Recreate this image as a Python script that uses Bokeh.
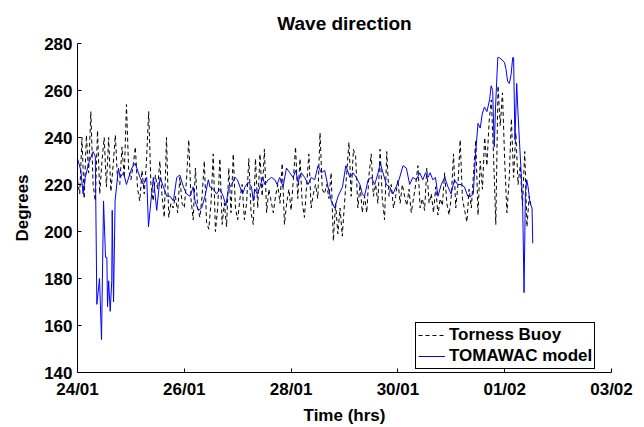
from bokeh.plotting import figure
from bokeh.models import FixedTicker, Legend, LegendItem
from bokeh.embed import file_html
from bokeh.resources import INLINE

# ---- data -------------------------------------------------------------
x_ticks = [0, 48, 96, 144, 192, 240]          # hours since 24/01 00:00
x_tick_labels = ["24/01", "26/01", "28/01", "30/01", "01/02", "03/02"]
y_ticks = [140, 160, 180, 200, 220, 240, 260, 280]

# Torness Buoy: hourly observations from 24/01 00:00
buoy_hours = list(range(205))
buoy_deg = [
    222, 216, 240, 214, 241, 225, 251, 220, 213, 243, 216, 230,
    240, 219, 240, 217, 228, 241, 222, 220, 236, 223, 254, 226,
    222, 228, 236, 218, 213, 226, 216, 230, 251, 220, 213, 224,
    218, 230, 215, 206, 240, 206, 212, 210, 215, 208, 223, 212,
    210, 222, 239, 214, 205, 227, 210, 206, 215, 230, 204, 201,
    212, 233, 200, 210, 231, 203, 212, 202, 227, 208, 233, 210,
    205, 214, 220, 205, 212, 231, 208, 203, 231, 210, 233, 215,
    235, 208, 218, 213, 208, 215, 220, 212, 229, 203, 212, 218,
    209, 222, 236, 214, 231, 212, 206, 220, 233, 210, 216, 220,
    214, 242, 218, 216, 220, 214, 225, 196, 212, 199, 210, 198,
    212, 225, 238, 215, 235, 232, 210, 220, 208, 215, 208, 224,
    233, 215, 220, 212, 235, 214, 205, 234, 215, 220, 210, 215,
    222, 212, 220, 215, 211, 218, 208, 214, 220, 228, 210, 214,
    209, 227, 212, 216, 208, 219, 207, 214, 211, 225, 212, 207,
    215, 233, 210, 220, 239, 214, 209, 204, 218, 210, 225, 239,
    207, 230, 218, 240, 228, 247, 256, 232, 203, 262, 245, 259,
    230, 208, 222, 248, 223, 242, 220, 228, 211, 234, 202, 215, 210,
]

# TOMAWAC model
model_hours = [
    0, 1.5, 2.5, 3.5, 5, 7, 8, 8.7, 9.9, 10.8,
    11.7, 12.6, 13.2, 13.5, 14, 14.7, 15.4, 15.6, 16.2, 16.9,
    18.4, 19.2, 20.7, 22, 24.4, 25.9, 27.4, 28.1, 29.6, 31.1,
    31.9, 33, 34.1, 35.6, 37.1, 38.6, 40.1, 41.6, 43.1, 44.6,
    46, 47.6, 49, 50.6, 52, 52.8, 54.3, 55.8, 57.3, 58.8,
    59.5, 61, 62.5, 64, 65.5, 66.7, 67.8, 69.3, 70.8, 71.9,
    73, 74.2, 75.3, 76.7, 78.2, 79, 79.7, 80.8, 82, 83.2,
    84.2, 85.7, 87.2, 88.7, 89.7, 90.9, 92.4, 93.9, 95.4, 96.9,
    98.1, 99.1, 100.6, 102.1, 103.6, 105.1, 106.6, 108.1, 109.6, 111.1,
    112.6, 114.1, 115.6, 117.1, 119.1, 120.6, 122.4, 123.8, 125.3, 126.9,
    128, 129, 130.6, 132.1, 133.6, 135.1, 136.1, 137.3, 138.8, 140.3,
    141.8, 143.2, 144.5, 146.3, 147.8, 149.3, 150.7, 152.3, 153.8, 155.2,
    156.4, 157.5, 158.5, 159.7, 160.9, 162, 163.5, 165, 166.5, 167.9,
    169.4, 170.9, 172.4, 173.9, 175.4, 176.9, 177.9, 178.9, 180, 181,
    181.9, 182.9, 184, 185.2, 185.9, 186.6, 187.3, 187.9, 188.4, 188.9,
    189.6, 190.8, 191.9, 192.6, 193.3, 194.1, 194.9, 195.6, 196, 196.6,
    197.4, 198, 198.6, 199.4, 200.1, 200.7, 201.3, 201.9, 202.5, 203.4,
    204.3, 204.6,
]
model_deg = [
    231, 226, 216, 223, 229, 234, 232, 169, 180, 154,
    213, 189, 189, 168, 179, 166, 179, 209, 170, 213,
    227, 223, 225, 220, 227, 229, 225, 223, 220, 223,
    202, 213, 223, 209, 223, 219, 215, 215, 213, 223,
    224, 219, 216, 215, 219, 213, 209, 210, 215, 222,
    219, 218, 216, 218, 215, 211, 218, 220, 223, 222,
    219, 216, 219, 221, 219, 213, 218, 216, 219, 223,
    220, 222, 223, 222, 220, 223, 219, 227, 225, 223,
    226, 221, 225, 223, 220, 223, 222, 228, 225, 226,
    219, 213, 210, 215, 219, 228, 223, 225, 223, 220,
    216, 215, 222, 223, 220, 225, 229, 225, 220, 219,
    216, 219, 222, 228, 227, 220, 223, 222, 225, 222,
    225, 223, 225, 222, 223, 215, 220, 223, 219, 216,
    222, 220, 220, 219, 215, 215, 216, 233, 246, 244,
    250, 253, 251, 256, 262, 260, 236, 253, 264, 274,
    274, 273, 272, 269, 264, 263, 267, 274, 274, 239,
    263, 250, 239, 225, 210, 174, 216, 222, 219, 212,
    210, 195,
]

FONT = "Liberation Sans"

p = figure(width=644, height=427, output_backend="svg", toolbar_location=None,
           x_range=(0, 240), y_range=(140, 280),
           min_border_left=77, min_border_right=33,
           min_border_top=43, min_border_bottom=55)

p.title.text = "Wave direction"
p.title.align = "center"
p.title.text_font = FONT
p.title.text_font_size = "19px"
p.title.text_font_style = "bold"
p.title.text_color = "black"
p.title.standoff = 19

p.outline_line_color = None
p.xgrid.grid_line_color = None
p.ygrid.grid_line_color = None

p.xaxis.ticker = FixedTicker(ticks=x_ticks)
p.xaxis.major_label_overrides = {t: l for t, l in zip(x_ticks, x_tick_labels)}
p.yaxis.ticker = FixedTicker(ticks=y_ticks)

for ax in (p.xaxis, p.yaxis):
    ax.axis_line_color = "black"
    ax.axis_line_width = 1
    ax.major_tick_in = 4
    ax.major_tick_out = 0
    ax.major_tick_line_color = "black"
    ax.minor_tick_line_color = None
    ax.major_label_text_font = FONT
    ax.major_label_text_font_size = "17px"
    ax.major_label_text_font_style = "bold"
    ax.major_label_text_color = "black"
    ax.axis_label_text_font = FONT
    ax.axis_label_text_font_size = "17px"
    ax.axis_label_text_font_style = "bold"
    ax.axis_label_text_color = "black"

p.xaxis.axis_label = "Time (hrs)"
p.yaxis.axis_label = "Degrees"
p.xaxis.major_label_standoff = 7
p.xaxis.axis_label_standoff = 4
p.yaxis.major_label_standoff = 5
p.yaxis.axis_label_standoff = 9

r_buoy = p.line(buoy_hours, buoy_deg, line_color="black", line_width=1, line_dash="4 3")
r_model = p.line(model_hours, model_deg, line_color="#0000ff", line_width=1)

legend = Legend(items=[LegendItem(label="Torness Buoy", renderers=[r_buoy]),
                       LegendItem(label="TOMAWAC model", renderers=[r_model])],
                location=(338, 3))
legend.label_text_font = FONT
legend.label_text_font_size = "17px"
legend.label_text_font_style = "bold"
legend.label_text_color = "black"
legend.label_height = 18
legend.glyph_height = 18
legend.glyph_width = 27
legend.label_standoff = 4
legend.spacing = 1
legend.padding = 2
legend.margin = 0
legend.border_line_color = "black"
legend.border_line_width = 1
legend.border_line_alpha = 1
legend.background_fill_color = "white"
legend.background_fill_alpha = 1
p.add_layout(legend)

open("out.html", "w").write(file_html(p, INLINE))
